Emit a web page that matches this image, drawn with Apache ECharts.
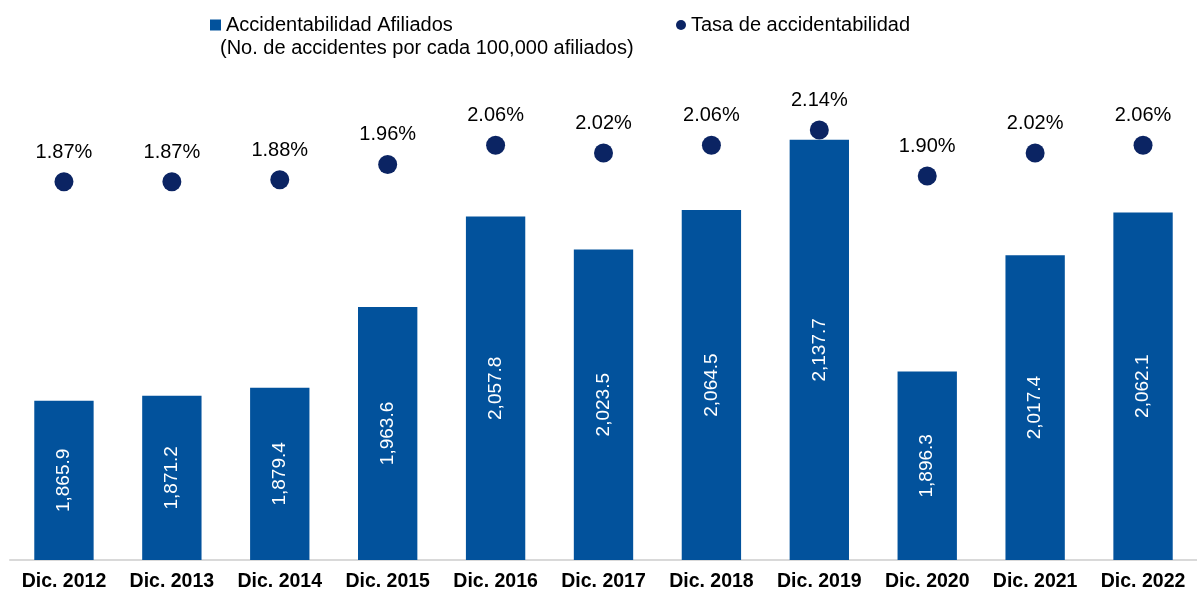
<!DOCTYPE html>
<html>
<head>
<meta charset="utf-8">
<script src="https://cdn.jsdelivr.net/npm/echarts@6/dist/echarts.min.js"></script>
<style>
  html, body { margin: 0; padding: 0; background: #fff; }
  #chart { width: 1197px; height: 593px; }
</style>
</head>
<body>
<div id="chart"></div>
<script>
  var categories = ['Dic. 2012', 'Dic. 2013', 'Dic. 2014', 'Dic. 2015', 'Dic. 2016', 'Dic. 2017',
    'Dic. 2018', 'Dic. 2019', 'Dic. 2020', 'Dic. 2021', 'Dic. 2022'];
  var accidentes = [1865.9, 1871.2, 1879.4, 1963.6, 2057.8, 2023.5, 2064.5, 2137.7, 1896.3, 2017.4, 2062.1];
  var tasa = [1.87, 1.87, 1.88, 1.96, 2.06, 2.02, 2.06, 2.14, 1.90, 2.02, 2.06];

  var barName = 'Accidentabilidad Afiliados';
  var dotName = 'Tasa de accidentabilidad';
  var barColor = '#02529c';
  var dotColor = '#0b2463';
  var font = 'Arial, "Liberation Sans", sans-serif';

  function fmt(v) {
    return v.toLocaleString('en-US', { minimumFractionDigits: 1, maximumFractionDigits: 1 });
  }

  var chart = echarts.init(document.getElementById('chart'));

  chart.setOption({
    animation: false,
    textStyle: { fontFamily: font },
    legend: [
      {
        data: [{ name: barName, icon: 'rect' }],
        left: 205,
        top: 10,
        itemWidth: 11,
        itemHeight: 11,
        itemGap: 4,
        textStyle: { fontSize: 20, color: '#000', fontFamily: font }
      },
      {
        data: [{ name: dotName, icon: 'circle' }],
        left: 671,
        top: 10,
        itemWidth: 10,
        itemHeight: 10,
        textStyle: { fontSize: 20, color: '#000', fontFamily: font }
      }
    ],
    graphic: [{
      type: 'text',
      left: 220,
      top: 38,
      style: {
        text: '(No. de accidentes por cada 100,000 afiliados)',
        font: '20px ' + font,
        fill: '#000'
      }
    }],
    grid: { left: 10, right: -7, top: 80, bottom: 33 },
    xAxis: {
      type: 'category',
      data: categories,
      axisTick: { show: false },
      axisLine: { onZero: false, lineStyle: { color: '#d9d9d9', width: 2 } },
      axisLabel: { color: '#000', fontSize: 19.5, fontWeight: 'bold', margin: 12, interval: 0 }
    },
    yAxis: [
      { type: 'value', min: 1700, max: 2200, show: false, splitLine: { show: false } },
      { type: 'value', min: -0.1, max: 2.4, show: false, splitLine: { show: false } }
    ],
    series: [
      {
        name: barName,
        type: 'bar',
        data: accidentes,
        barWidth: '55%',
        itemStyle: { color: barColor },
        label: {
          show: true,
          position: 'inside',
          rotate: 90,
          color: '#fff',
          fontSize: 19,
          formatter: function(p) { return fmt(p.value); }
        }
      },
      {
        name: dotName,
        type: 'scatter',
        yAxisIndex: 1,
        data: tasa,
        symbolSize: 19,
        itemStyle: { color: dotColor, opacity: 1 },
        label: {
          show: true,
          position: 'top',
          distance: 10,
          color: '#000',
          fontSize: 20,
          formatter: function(p) { return p.value.toFixed(2) + '%'; }
        }
      }
    ]
  });
</script>
</body>
</html>
